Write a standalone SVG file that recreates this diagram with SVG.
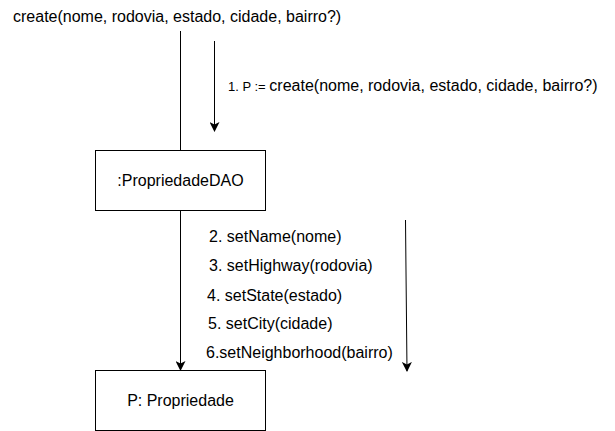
<svg xmlns="http://www.w3.org/2000/svg" width="615" height="431" viewBox="0 0 615 431">
  <style>
    text { font-family: "Liberation Sans", Arial, sans-serif; font-size: 16px; fill: #000; }
    .box { fill: #fff; stroke: #000; stroke-width: 1; }
    .ln { stroke: #000; stroke-width: 1; fill: none; }
    .small { font-size: 13px; }
  </style>
  <defs>
    <marker id="ah" markerWidth="10" markerHeight="10" refX="9" refY="5" orient="auto" markerUnits="userSpaceOnUse">
      <path d="M0,0 L10,5 L0,10 L2.5,5 Z" fill="#000"/>
    </marker>
  </defs>
  <rect width="615" height="431" fill="#fff"/>
  <text x="13" y="22">create(nome, rodovia, estado, cidade, bairro?)</text>
  <g id="connectors">
    <line class="ln" x1="180.5" y1="31" x2="180.5" y2="150"/>
    <line class="ln" x1="214.5" y1="41" x2="214.5" y2="131" marker-end="url(#ah)"/>
    <line class="ln" x1="180.5" y1="210" x2="180.5" y2="370" marker-end="url(#ah)"/>
    <line class="ln" x1="405.5" y1="220" x2="407" y2="371" marker-end="url(#ah)"/>
  </g>
  <g id="labels">
    <text x="228" y="91"><tspan class="small">1. P := </tspan>create(nome, rodovia, estado, cidade, bairro?)</text>
    <text x="209" y="242">2. setName(nome)</text>
    <text x="209" y="271">3. setHighway(rodovia)</text>
    <text x="207" y="301">4. setState(estado)</text>
    <text x="208" y="329">5. setCity(cidade)</text>
    <text x="206" y="358">6.setNeighborhood(bairro)</text>
  </g>
  <g id="propriedadeDAO">
    <rect class="box" x="95.5" y="150.5" width="170" height="60"/>
    <text x="180.5" y="186" text-anchor="middle">:PropriedadeDAO</text>
  </g>
  <g id="propriedade">
    <rect class="box" x="95.5" y="370.5" width="170" height="60"/>
    <text x="180.5" y="406" text-anchor="middle">P: Propriedade</text>
  </g>
</svg>
